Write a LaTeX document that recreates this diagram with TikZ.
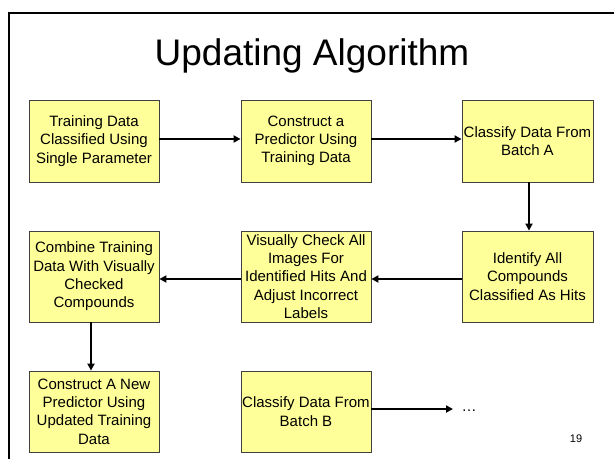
\documentclass[tikz,border=0pt]{standalone}
\usepackage{fontspec}
\setmainfont{Liberation Sans}
\usetikzlibrary{arrows.meta}
\definecolor{boxfill}{HTML}{FFFF99}
\definecolor{boxline}{HTML}{404040}
\tikzset{
  stepbox/.style={draw=boxline, line width=0.8pt, fill=boxfill, rectangle, align=center,
    inner sep=0pt, minimum width=130pt, font=\fontsize{15}{18.3}\selectfont},
  flow/.style={line width=2pt, -{Triangle[length=7pt,width=7pt]}}
}
\begin{document}
\begin{tikzpicture}[x=1pt,y=-1pt]
\useasboundingbox (0,0) rectangle (614,459);
\draw[line width=2pt] (8.5,459) -- (8.5,13) -- (614,13);
\node[font=\fontsize{37}{40}\selectfont, anchor=base] (title) at (312,65) {Updating Algorithm};
\node[stepbox, minimum height=82pt] (b1) at (94,141) {Training Data\\Classified Using\\Single Parameter};
\node[stepbox, minimum height=82pt] (b2) at (306,141) {Construct a\\Predictor Using\\Training Data};
\node[stepbox, minimum height=82pt, minimum width=131pt] (b3) at (527.5,141) {Classify Data From\\Batch A};
\node[stepbox, minimum height=91pt, minimum width=131pt] (b4) at (527.5,276.5) {Identify All\\Compounds\\Classified As Hits};
\node[stepbox, minimum height=91pt] (b5) at (306,276.5) {Visually Check All\\Images For\\Identified Hits And\\Adjust Incorrect\\Labels};
\node[stepbox, minimum height=91pt] (b6) at (94,276.5) {Combine Training\\Data With Visually\\Checked\\Compounds};
\node[stepbox, minimum height=81pt] (b7) at (94,411.5) {Construct A New\\Predictor Using\\Updated Training\\Data};
\node[stepbox, minimum height=81pt] (b8) at (306,411.5) {Classify Data From\\Batch B};
\coordinate (end) at (453,409);
\node[font=\fontsize{15}{18}\selectfont, anchor=west] (dots) at (458,411) {…};
\node[font=\fontsize{11}{13}\selectfont] (page) at (576,439) {19};
\draw[flow] (b1.east |- 0,139) -- (b2.west |- 0,139);
\draw[flow] (b2.east |- 0,139) -- (b3.west |- 0,139);
\draw[flow] (b3.south -| 529,0) -- (b4.north -| 529,0);
\draw[flow] (b4.west |- 0,279) -- (b5.east |- 0,279);
\draw[flow] (b5.west |- 0,279) -- (b6.east |- 0,279);
\draw[flow] (b6.south -| 91,0) -- (b7.north -| 91,0);
\draw[flow] (b8.east |- 0,409) -- (end);
\end{tikzpicture}
\end{document}
